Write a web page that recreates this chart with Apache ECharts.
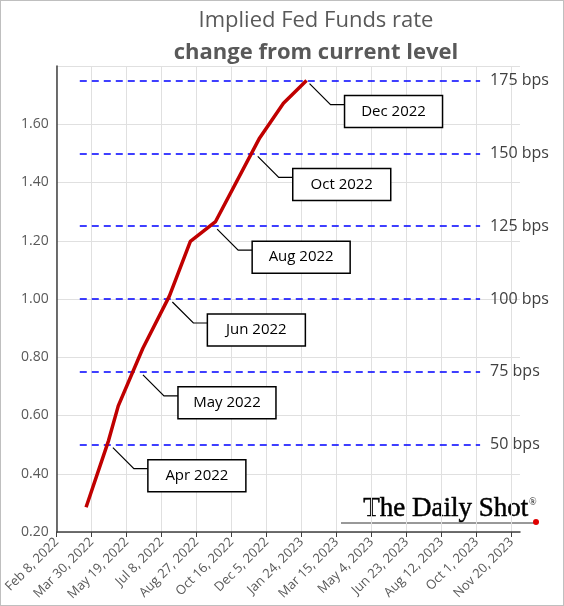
<!DOCTYPE html>
<html><head><meta charset="utf-8">
<script src="https://cdn.jsdelivr.net/npm/echarts@6/dist/echarts.min.js"></script>
<style>html,body{margin:0;padding:0;background:#fff}#c{width:562px;height:604px;border:1px solid #bfbfbf}</style>
</head><body><div id="c"></div>
<script>
const dates = ['2022-03-22','2022-04-23','2022-05-07','2022-06-11','2022-07-19','2022-08-18','2022-09-23','2022-11-25','2022-12-29','2023-01-31'];
const values = [0.285,0.513,0.633,0.83,1.01,1.198,1.266,1.553,1.672,1.75];
const bpsLevels = [0.5,0.75,1.0,1.25,1.5,1.75];
const bpsLabels = ['50 bps','75 bps','100 bps','125 bps','150 bps','175 bps'];
const calloutLabels = ['Apr 2022','May 2022','Jun 2022','Aug 2022','Oct 2022','Dec 2022'];
const calloutDates = ['2022-04-25','2022-06-07','2022-07-19','2022-09-21','2022-11-18','2023-01-31'];
const calloutValues = [0.5,0.75,1.0,1.25,1.5,1.75];

const day = 86400000;
const t0 = Date.UTC(2022,1,8);
const xMax = t0 + 662*day;
const ticks = []; for (let i=0;i<14;i++) ticks.push(t0+i*50*day);
const mon = ['Jan','Feb','Mar','Apr','May','Jun','Jul','Aug','Sep','Oct','Nov','Dec'];
const fmt = v => { const d=new Date(v); return mon[d.getUTCMonth()]+' '+d.getUTCDate()+', '+d.getUTCFullYear(); };
const ts = s => Date.parse(s+'T00:00:00Z');

const chart = echarts.init(document.getElementById('c'));
chart.setOption({
  animation:false,
  title:[{text:'Implied Fed Funds rate',left:310,top:4,textAlign:'center',textStyle:{fontFamily:'Open Sans',fontWeight:'normal',fontSize:22,color:'#595959'}},
         {text:'change from current level',left:310,top:36,textAlign:'center',textStyle:{fontFamily:'Open Sans',fontWeight:'bold',fontSize:22,color:'#595959'}}],
  grid:{left:53,right:43,top:65,bottom:73},
  xAxis:{type:'value',min:t0,max:xMax,
    axisLine:{lineStyle:{color:'#404040',width:1.5}},
    axisTick:{show:true,customValues:ticks,lineStyle:{color:'#404040'}},
    splitLine:{show:true,lineStyle:{color:'#e0e0e0'}},
    axisLabel:{rotate:45,fontSize:13,color:'#595959',fontFamily:'Open Sans',formatter:v=>fmt(v),
      customValues:ticks,showMaxLabel:true}},
  yAxis:{type:'value',min:0.2,max:1.8,interval:0.2,
    axisLine:{show:true,lineStyle:{color:'#404040',width:1.5}},axisTick:{show:false},
    splitLine:{lineStyle:{color:'#e0e0e0'}},
    axisLabel:{fontSize:14,color:'#595959',fontFamily:'Open Sans',formatter:v=>v>1.7?'':v.toFixed(2)}},
  series:[
    {type:'line',data:dates.map((d,i)=>[ts(d),values[i]]),showSymbol:false,lineStyle:{color:'#c00000',width:3.5},z:5,
     markLine:{silent:true,symbol:'none',
       lineStyle:{color:'#0000ff',type:[7,5],width:1.5},
       label:{position:'end',distance:10,formatter:p=>bpsLabels[p.dataIndex],fontSize:16,color:'#404040',fontFamily:'Open Sans'},
       data:bpsLevels.map(v=>[{coord:[t0+33*day,v]},{coord:[t0+605*day,v]}])}},
    {type:'custom',z:10,data:calloutDates.map((d,i)=>[ts(d),calloutValues[i],i]),
     renderItem:(params,api)=>{
       const p=api.coord([api.value(0),api.value(1)]);
       const i=api.value(2);
       const x=p[0],y=p[1];
       return {type:'group',children:[
         {type:'polyline',shape:{points:[[x+3,y+3],[x+24,y+24],[x+38,y+24]]},style:{stroke:'#000',lineWidth:1.2,fill:null}},
         {type:'rect',shape:{x:x+38,y:y+15,width:98,height:32},style:{fill:'#fff',stroke:'#000',lineWidth:1.5}},
         {type:'text',style:{x:x+87,y:y+31,text:calloutLabels[i],textAlign:'center',textVerticalAlign:'middle',font:'15px "Open Sans"',fill:'#000'}}
       ]};
     }}
  ],
  graphic:[
    {type:'text',left:362,top:494,style:{text:'The Daily Shot',font:'27px "Liberation Serif"',fill:'#000',stroke:'#000',lineWidth:0.5}},
    {type:'text',left:528,top:496,style:{text:'®',font:'10px "Liberation Serif"',fill:'#111'}},
    {type:'line',shape:{x1:340,y1:522,x2:533,y2:522},style:{stroke:'#333',lineWidth:1}},
    {type:'circle',shape:{cx:535,cy:521,r:3},style:{fill:'#e00000'}}
  ]
});
</script></body></html>
